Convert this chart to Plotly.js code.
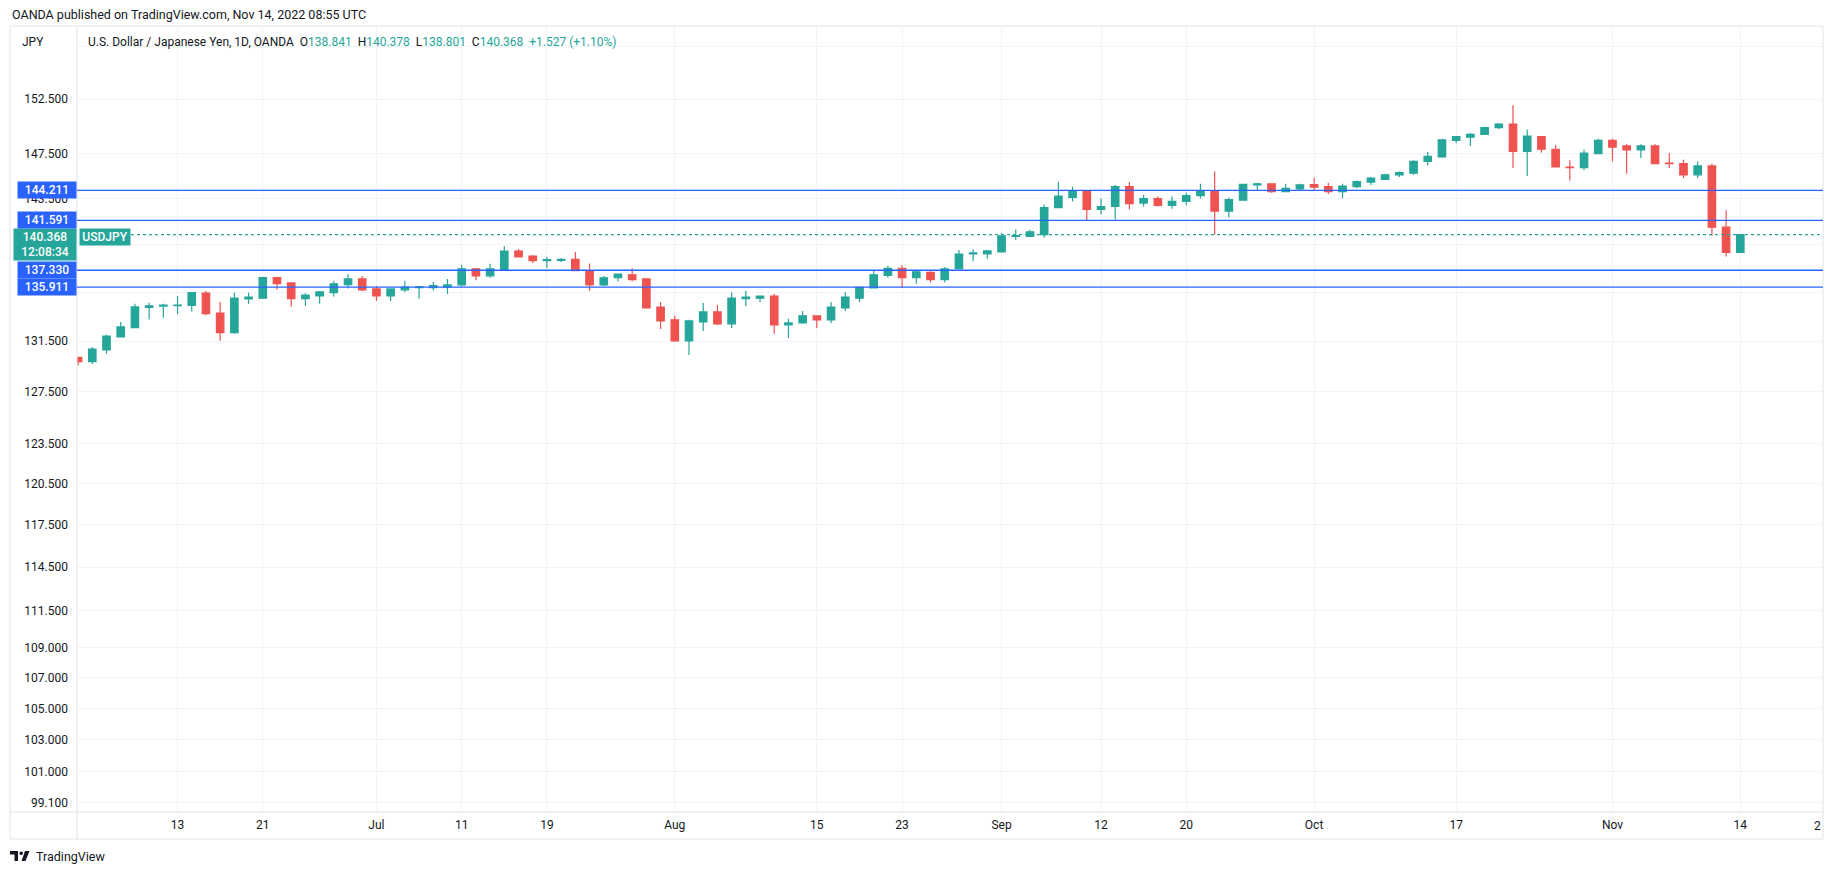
<!DOCTYPE html>
<html>
<head>
<meta charset="utf-8">
<script src="https://cdn.plot.ly/plotly-3.0.1.min.js"></script>
<style>
  html, body { margin: 0; padding: 0; background: #fff; }
  #plot { width: 1834px; height: 875px; }
</style>
</head>
<body>
<div id="plot"></div>
<script>
// USD/JPY daily candles (OANDA), Jun 2 - Nov 14 2022
var dates = [
  '2022-06-02','2022-06-03','2022-06-06','2022-06-07','2022-06-08','2022-06-09','2022-06-10',
  '2022-06-13','2022-06-14','2022-06-15','2022-06-16','2022-06-17',
  '2022-06-20','2022-06-21','2022-06-22','2022-06-23','2022-06-24',
  '2022-06-27','2022-06-28','2022-06-29','2022-06-30','2022-07-01',
  '2022-07-04','2022-07-05','2022-07-06','2022-07-07','2022-07-08',
  '2022-07-11','2022-07-12','2022-07-13','2022-07-14','2022-07-15',
  '2022-07-18','2022-07-19','2022-07-20','2022-07-21','2022-07-22',
  '2022-07-25','2022-07-26','2022-07-27','2022-07-28','2022-07-29',
  '2022-08-01','2022-08-02','2022-08-03','2022-08-04','2022-08-05',
  '2022-08-08','2022-08-09','2022-08-10','2022-08-11','2022-08-12',
  '2022-08-15','2022-08-16','2022-08-17','2022-08-18','2022-08-19',
  '2022-08-22','2022-08-23','2022-08-24','2022-08-25','2022-08-26',
  '2022-08-29','2022-08-30','2022-08-31','2022-09-01','2022-09-02',
  '2022-09-05','2022-09-06','2022-09-07','2022-09-08','2022-09-09',
  '2022-09-12','2022-09-13','2022-09-14','2022-09-15','2022-09-16',
  '2022-09-19','2022-09-20','2022-09-21','2022-09-22','2022-09-23',
  '2022-09-26','2022-09-27','2022-09-28','2022-09-29','2022-09-30',
  '2022-10-03','2022-10-04','2022-10-05','2022-10-06','2022-10-07',
  '2022-10-10','2022-10-11','2022-10-12','2022-10-13','2022-10-14',
  '2022-10-17','2022-10-18','2022-10-19','2022-10-20','2022-10-21',
  '2022-10-24','2022-10-25','2022-10-26','2022-10-27','2022-10-28',
  '2022-10-31','2022-11-01','2022-11-02','2022-11-03','2022-11-04',
  '2022-11-07','2022-11-08','2022-11-09','2022-11-10','2022-11-11',
  '2022-11-14'
];

var open = [
  130.20, 129.85, 130.78, 131.83, 132.58, 134.25, 134.35,
  134.38, 134.40, 135.42, 133.78, 132.18,
  134.95, 135.00, 136.71, 136.27, 134.96,
  135.18, 135.46, 136.13, 136.60, 135.77,
  135.18, 135.69, 135.88, 135.88, 135.92,
  136.10, 137.44, 136.86, 137.36, 138.96,
  138.53, 138.14, 138.17, 138.25, 137.30,
  136.10, 136.70, 136.95, 136.60, 134.27,
  133.22, 131.51, 133.05, 133.87, 132.90,
  134.96, 135.00, 135.18, 132.80, 132.97,
  133.55, 133.22, 134.19, 135.00, 135.86,
  136.90, 137.50, 136.70, 137.15, 136.55,
  137.46, 138.72, 138.72, 138.88, 140.20,
  140.20, 140.36, 142.70, 143.60, 144.10,
  142.55, 142.80, 144.55, 143.10, 143.50,
  142.90, 143.25, 143.75, 144.10, 142.40,
  143.35, 144.70, 144.80, 144.10, 144.35,
  144.72, 144.55, 144.10, 144.55, 144.95,
  145.20, 145.60, 145.75, 146.80, 147.20,
  148.70, 149.00, 149.25, 149.87, 150.20,
  147.70, 149.05, 147.90, 146.30, 146.25,
  147.50, 148.70, 148.20, 147.85, 148.20,
  146.65, 146.60, 145.60, 146.40, 141.00,
  138.841
];

var high = [
  130.25, 131.02, 132.00, 133.04, 134.54, 134.63, 134.54,
  135.18, 135.52, 135.59, 134.68, 135.45,
  135.45, 136.79, 136.77, 136.30, 135.40,
  135.60, 136.44, 137.00, 136.85, 136.02,
  135.83, 136.44, 136.02, 136.35, 136.60,
  137.77, 137.52, 137.87, 139.39, 139.13,
  138.62, 138.45, 138.37, 138.88, 137.90,
  136.85, 137.05, 137.50, 136.65, 134.68,
  133.55, 133.22, 134.60, 134.44, 135.50,
  135.60, 135.20, 135.35, 133.30, 133.95,
  133.60, 134.68, 135.50, 135.90, 137.30,
  137.70, 137.75, 137.30, 137.25, 137.60,
  139.05, 139.08, 139.05, 140.50, 140.80,
  140.78, 142.97, 144.98, 144.55, 144.15,
  143.50, 144.70, 144.95, 143.80, 143.70,
  143.65, 144.00, 144.80, 145.90, 143.60,
  144.80, 144.90, 144.85, 144.80, 144.80,
  145.35, 144.90, 144.80, 145.10, 145.40,
  145.70, 145.90, 146.90, 147.65, 148.86,
  149.10, 149.40, 149.90, 150.30, 151.95,
  149.70, 149.10, 148.30, 146.90, 147.85,
  148.85, 148.85, 148.35, 148.35, 148.35,
  147.55, 146.95, 146.80, 146.60, 142.48,
  140.378
];

var low = [
  129.55, 129.66, 130.49, 131.80, 132.55, 133.24, 133.40,
  133.68, 133.90, 133.60, 131.53, 132.10,
  134.55, 134.95, 135.70, 134.30, 134.35,
  134.57, 135.13, 135.80, 135.60, 134.77,
  134.77, 135.52, 134.96, 135.63, 135.35,
  135.98, 136.50, 136.70, 137.30, 138.40,
  137.94, 137.50, 138.00, 137.25, 135.60,
  136.00, 136.38, 136.40, 134.15, 132.47,
  131.45, 130.39, 132.31, 132.80, 132.55,
  134.35, 134.68, 132.10, 131.75, 132.90,
  132.55, 132.97, 133.95, 134.68, 135.80,
  136.70, 135.85, 136.20, 136.30, 136.30,
  137.40, 138.10, 138.30, 138.85, 139.90,
  140.15, 140.10, 142.65, 143.25, 141.55,
  142.10, 141.70, 142.55, 142.80, 142.80,
  142.60, 142.90, 143.50, 140.35, 141.85,
  143.30, 144.20, 144.00, 144.05, 144.25,
  144.20, 143.90, 143.55, 144.40, 144.70,
  145.15, 145.40, 145.60, 146.45, 147.10,
  148.45, 148.20, 149.20, 149.75, 146.20,
  145.50, 147.60, 146.25, 145.10, 146.00,
  147.45, 146.80, 145.70, 147.10, 146.55,
  146.20, 145.30, 145.30, 140.25, 138.50,
  138.801
];

var close = [
  129.85, 130.86, 131.91, 132.64, 134.28, 134.37, 134.42,
  134.43, 135.46, 133.73, 132.18, 135.00,
  135.10, 136.71, 136.21, 134.96, 135.26,
  135.52, 136.19, 136.60, 135.69, 135.18,
  135.77, 135.91, 135.94, 136.05, 136.10,
  137.44, 136.86, 137.44, 138.96, 138.45,
  138.14, 138.22, 138.25, 137.30, 136.10,
  136.70, 137.00, 136.55, 134.19, 133.13,
  131.51, 133.13, 133.87, 132.90, 135.00,
  135.10, 135.18, 132.80, 132.97, 133.55,
  133.22, 134.27, 135.10, 135.90, 136.95,
  137.50, 136.70, 137.20, 136.55, 137.45,
  138.70, 138.80, 138.97, 140.25, 140.27,
  140.60, 142.70, 143.72, 144.10, 142.55,
  142.80, 144.55, 143.05, 143.50, 142.90,
  143.25, 143.75, 144.10, 142.40, 143.40,
  144.75, 144.80, 144.10, 144.40, 144.70,
  144.50, 144.10, 144.60, 145.00, 145.30,
  145.60, 145.80, 146.80, 147.25, 148.75,
  149.05, 149.25, 149.88, 150.20, 147.70,
  149.10, 147.90, 146.30, 146.25, 147.55,
  148.70, 148.10, 147.85, 148.20, 146.60,
  146.60, 145.60, 146.40, 141.00, 138.84,
  140.368
];

// horizontal levels drawn on the chart
var levels = [144.211, 141.591, 137.330, 135.911];
var countdown = '12:08:34';

// time axis labels
var tickDates = ['2022-06-13','2022-06-21','2022-07-01','2022-07-11','2022-07-19',
  '2022-08-01','2022-08-15','2022-08-23','2022-09-01','2022-09-12','2022-09-20',
  '2022-10-03','2022-10-17','2022-11-01','2022-11-14'];
var tickText = ['13','21','Jul','11','19','Aug','15','23','Sep','12','20','Oct','17','Nov','14'];

// price axis labels (157.5, 139.5 and 135.5 are gridlines only, hidden by the boxes)
var priceTicks = [157.5, 152.5, 147.5, 143.5, 139.5, 135.5, 131.5, 127.5, 123.5,
  120.5, 117.5, 114.5, 111.5, 109, 107, 105, 103, 101, 99.1];
var hiddenTicks = [157.5, 139.5, 135.5];

var GREEN = '#26A69A', RED = '#EF5350', BLUE = '#2962FF', TXT = '#131722';
var FONT = 'Roboto, "Liberation Sans", Arial, sans-serif';

// plot area in page pixels
var L = 77, R = 1823, T = 26, B = 812;
function px(x) { return (x - L) / (R - L); }
function py(y) { return (B - y) / (B - T); }

var n = close.length - 1;
var chg = close[n] - open[n];
var pct = chg / open[n] * 100;
function teal(s) { return '<span style="color:' + GREEN + '">' + s + '</span>'; }
var sp = '\u00a0\u00a0';
var legendText = 'U.S. Dollar / Japanese Yen, 1D, OANDA' + sp +
  'O' + teal(open[n].toFixed(3)) + sp +
  'H' + teal(high[n].toFixed(3)) + sp +
  'L' + teal(low[n].toFixed(3)) + sp +
  'C' + teal(close[n].toFixed(3)) + sp +
  teal('+' + chg.toFixed(3) + ' (+' + pct.toFixed(2) + '%)');

var candles = {
  type: 'candlestick',
  x: dates, open: open, high: high, low: low, close: close,
  increasing: {line: {color: GREEN, width: 1.2}, fillcolor: GREEN},
  decreasing: {line: {color: RED, width: 1.2}, fillcolor: RED},
  whiskerwidth: 0,
  hoverinfo: 'none'
};

var shapes = [
  // pane frame
  {type: 'rect', xref: 'paper', yref: 'paper', x0: px(10), x1: px(1823), y0: py(839), y1: py(26),
   line: {color: '#E0E3EB', width: 1}, layer: 'below'},
  {type: 'line', xref: 'paper', yref: 'paper', x0: px(77), x1: px(77), y0: py(839), y1: py(26),
   line: {color: '#E0E3EB', width: 1}},
  {type: 'line', xref: 'paper', yref: 'paper', x0: px(10), x1: px(1823), y0: 0, y1: 0,
   line: {color: '#E0E3EB', width: 1}},
  // last price dotted line
  {type: 'line', xref: 'paper', yref: 'y', x0: px(131), x1: 1, y0: close[n], y1: close[n],
   line: {color: GREEN, width: 1.3, dash: 'dot'}}
];
levels.forEach(function (v) {
  shapes.push({type: 'line', xref: 'paper', yref: 'y', x0: 0, x1: 1, y0: v, y1: v,
    line: {color: BLUE, width: 1.3}});
});

// TradingView logo
var logo = TXT, ly = 9;
shapes.push({type: 'rect', xref: 'paper', yref: 'paper', x0: px(10), x1: px(18), y0: py(845.5 + ly), y1: py(842 + ly),
  fillcolor: logo, line: {width: 0}});
shapes.push({type: 'rect', xref: 'paper', yref: 'paper', x0: px(14.5), x1: px(18), y0: py(852 + ly), y1: py(842 + ly),
  fillcolor: logo, line: {width: 0}});
shapes.push({type: 'circle', xref: 'paper', yref: 'paper', x0: px(19.5), x1: px(23), y0: py(846 + ly), y1: py(842.5 + ly),
  fillcolor: logo, line: {width: 0}});
shapes.push({type: 'path', xref: 'paper', yref: 'paper',
  path: 'M' + px(25) + ',' + py(842 + ly) + ' L' + px(29.5) + ',' + py(842 + ly) + ' L' + px(25.5) + ',' + py(852 + ly) +
        ' L' + px(21.5) + ',' + py(852 + ly) + ' Z',
  fillcolor: logo, line: {width: 0}});

var annotations = [
  {xref: 'paper', yref: 'paper', x: px(10), y: py(15), xanchor: 'left', yanchor: 'middle', showarrow: false,
   text: 'OANDA published on TradingView.com, Nov 14, 2022 08:55 UTC', font: {family: FONT, size: 12.5, color: TXT}},
  {xref: 'paper', yref: 'paper', x: px(20), y: py(42), xanchor: 'left', yanchor: 'middle', showarrow: false,
   text: 'JPY', font: {family: FONT, size: 12, color: TXT}},
  {xref: 'paper', yref: 'paper', x: px(86), y: py(42), xanchor: 'left', yanchor: 'middle', showarrow: false,
   text: legendText, font: {family: FONT, size: 12, color: TXT}},
  {xref: 'paper', yref: 'paper', x: 1, y: py(826), xanchor: 'right', yanchor: 'middle', showarrow: false,
   text: '2', font: {family: FONT, size: 12, color: TXT}},
  {xref: 'paper', yref: 'paper', x: px(34), y: py(847 + ly), xanchor: 'left', yanchor: 'middle', showarrow: false,
   text: 'TradingView', font: {family: FONT, size: 12.5, color: TXT}},
  // last price box and symbol tag
  {xref: 'paper', yref: 'y', x: 0, y: Math.log10(close[n]), xanchor: 'right', yanchor: 'top', yshift: 7,
   showarrow: false, bgcolor: GREEN, width: 58, height: 27, borderpad: 2, align: 'center',
   text: close[n].toFixed(3) + '<br>' + countdown, font: {family: FONT, size: 12, color: '#fff', weight: 500}},
  {xref: 'paper', yref: 'y', x: 0, y: Math.log10(close[n]), xanchor: 'left', yanchor: 'top', xshift: 2, yshift: 7,
   showarrow: false, bgcolor: GREEN, width: 48, height: 14, borderpad: 1, align: 'center',
   text: 'USDJPY', font: {family: FONT, size: 12, color: '#fff', weight: 500}}
];
levels.forEach(function (v) {
  annotations.push({xref: 'paper', yref: 'y', x: 0, y: Math.log10(v), xanchor: 'right', yanchor: 'middle',
    showarrow: false, bgcolor: BLUE, width: 56, height: 14, borderpad: 1, align: 'center',
    text: v.toFixed(3), font: {family: FONT, size: 12, color: '#fff', weight: 500}});
});

var layout = {
  width: 1834, height: 875,
  margin: {l: L, r: 1834 - R, t: T, b: 875 - B},
  paper_bgcolor: '#fff', plot_bgcolor: '#fff',
  showlegend: false,
  boxgap: 0.25,
  font: {family: FONT, size: 12, color: TXT},
  xaxis: {
    type: 'category',
    range: [-0.077, 122.82],
    rangeslider: {visible: false},
    tickmode: 'array', tickvals: tickDates, ticktext: tickText,
    showgrid: true, gridcolor: '#F0F3FA', zeroline: false, showline: false, ticks: '',
    ticklabelstandoff: 4,
    tickfont: {family: FONT, size: 12, color: TXT},
    fixedrange: true
  },
  yaxis: {
    type: 'log', side: 'left',
    range: [Math.log10(98.54), Math.log10(159.5)],
    tickmode: 'array', tickvals: priceTicks,
    ticktext: priceTicks.map(function (v) { return hiddenTicks.indexOf(v) >= 0 ? '' : v.toFixed(3); }),
    showgrid: true, gridcolor: '#F0F3FA', zeroline: false, showline: false, ticks: '',
    ticklabelstandoff: 8,
    tickfont: {family: FONT, size: 12, color: TXT},
    fixedrange: true
  },
  shapes: shapes,
  annotations: annotations
};

Plotly.newPlot('plot', [candles], layout, {staticPlot: true});
</script>
</body>
</html>
